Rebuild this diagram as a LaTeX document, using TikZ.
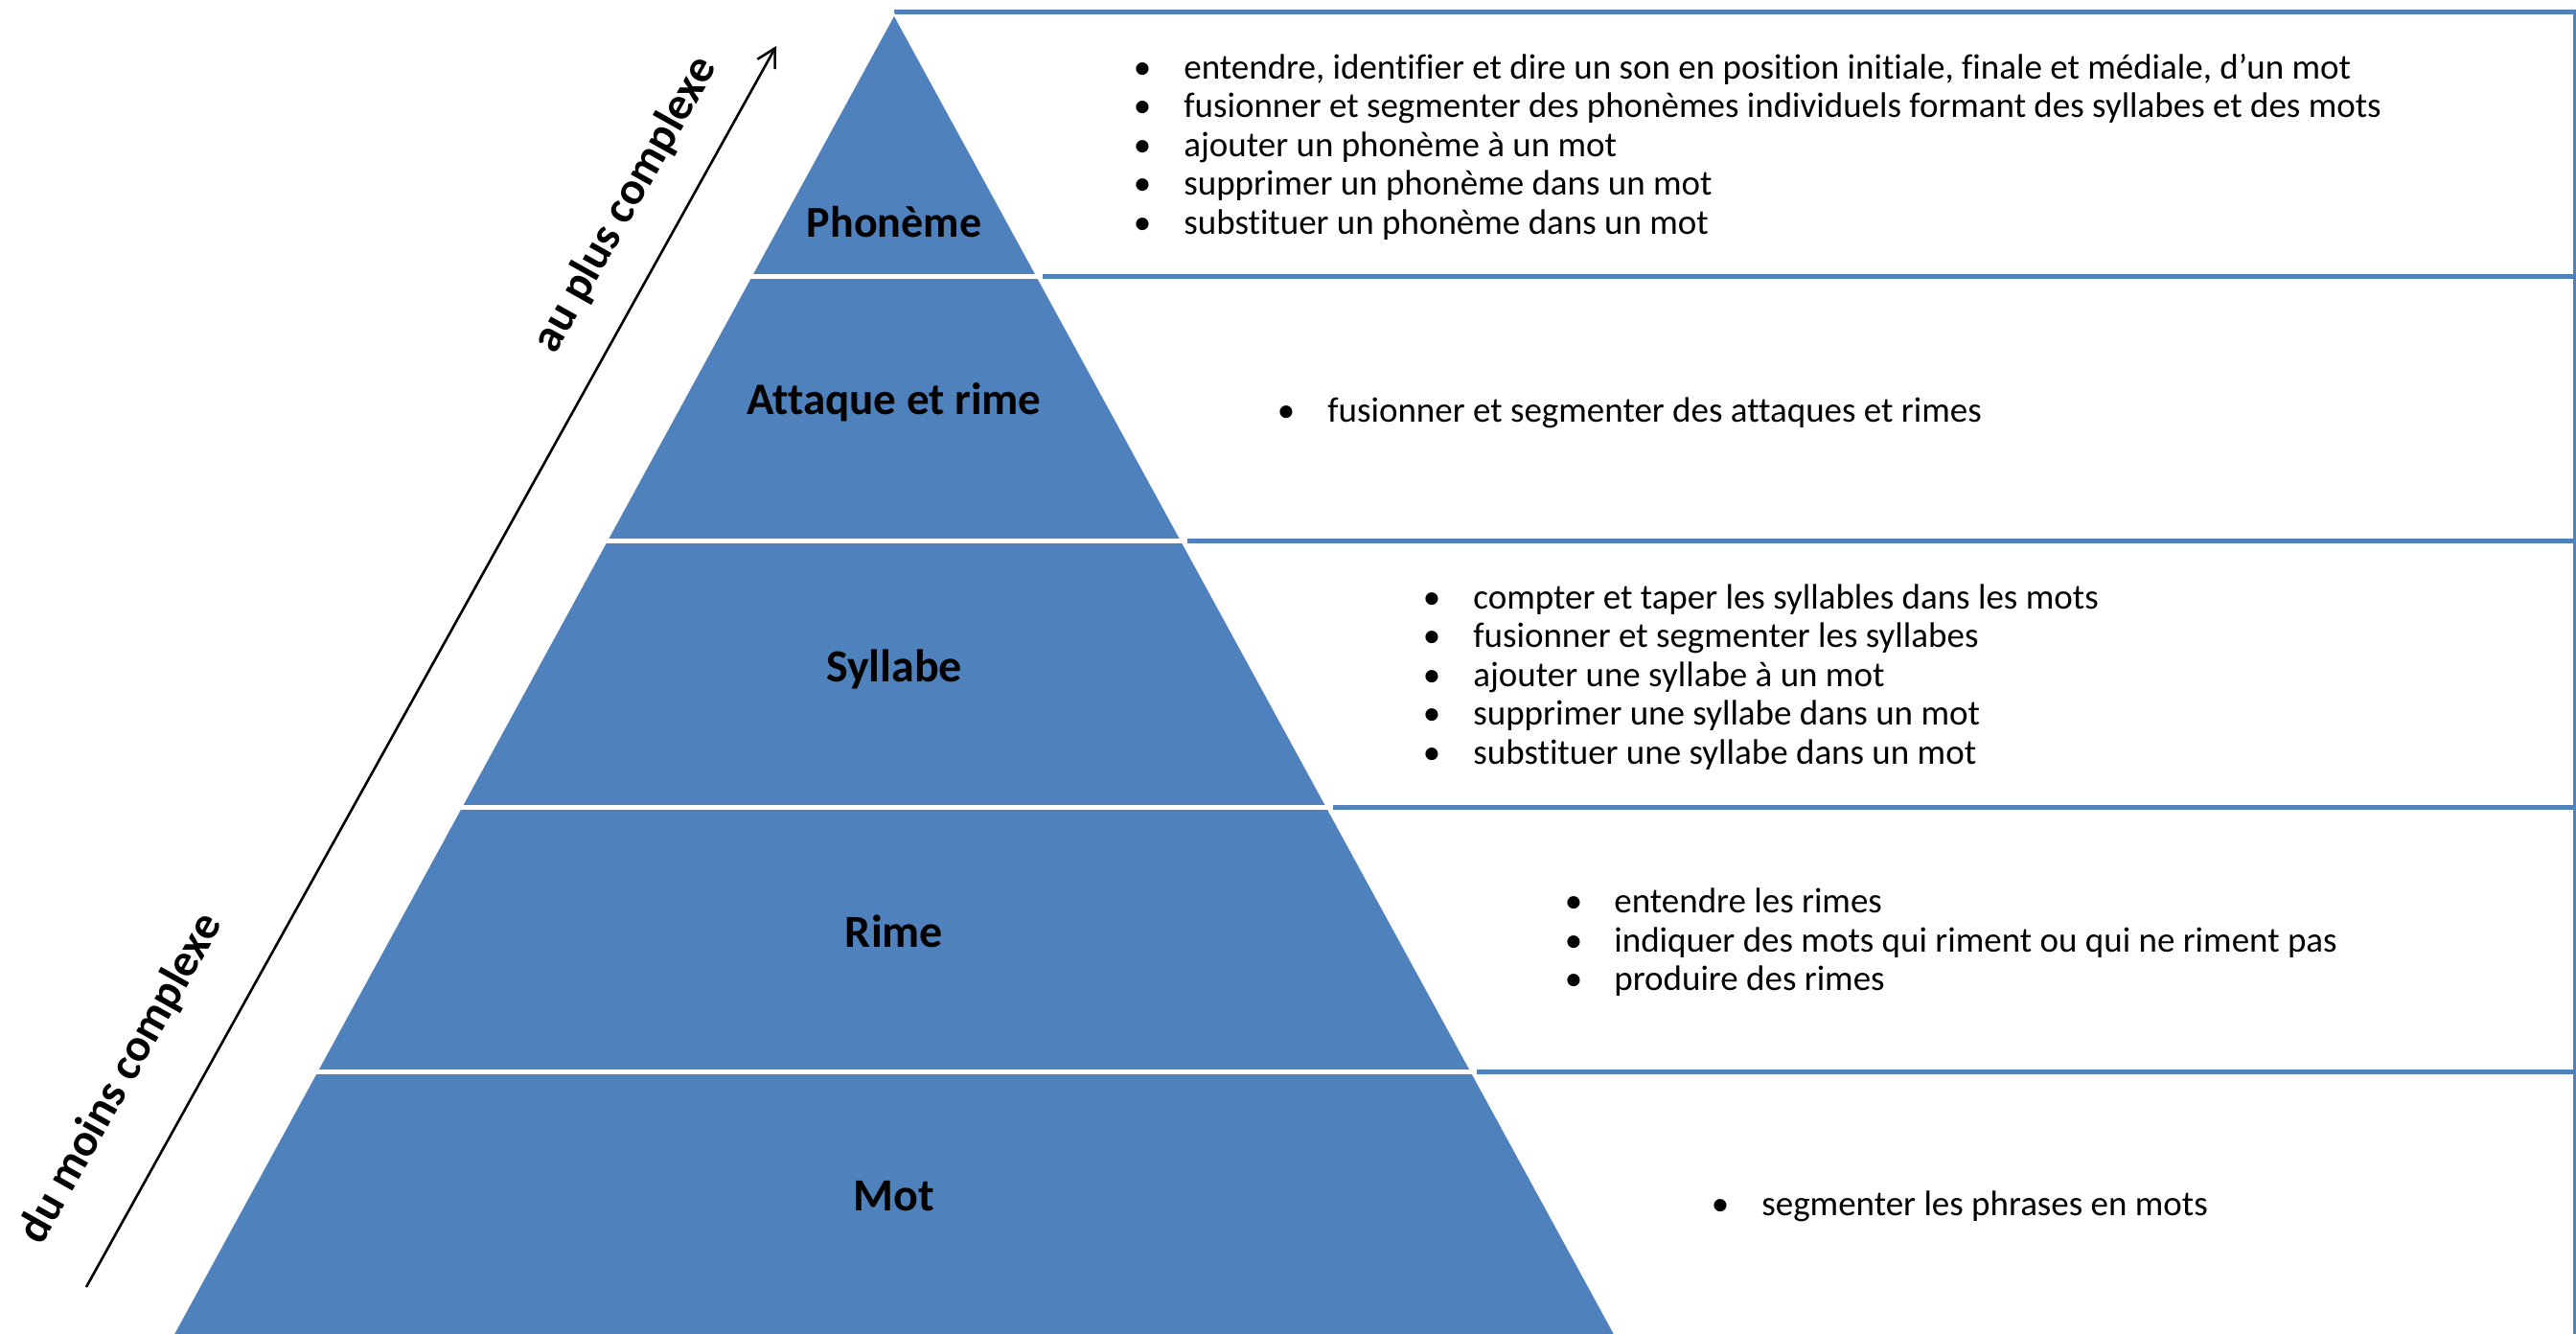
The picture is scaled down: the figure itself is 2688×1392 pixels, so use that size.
\documentclass[tikz,border=0pt]{standalone}
\usepackage{fontspec}
\setmainfont{Carlito}[Ligatures={NoCommon}]
\usetikzlibrary{arrows.meta}
\definecolor{pblue}{RGB}{79,129,189}
\begin{document}
\begin{tikzpicture}[x=0.5pt,y=-0.5pt,
  boxline/.style={draw=pblue,line width=2.5pt},
  rightline/.style={draw=pblue,line width=1.5pt},
  gap/.style={draw=white,line width=2.5pt},
  lbl/.style={anchor=base,font=\fontsize{24}{28}\selectfont\bfseries,text=black,inner sep=0pt},
  bul/.style={anchor=base,font=\fontsize{18.5}{20}\selectfont,inner sep=0pt},
  item/.style={anchor=base west,font=\fontsize{18.5}{20}\selectfont,inner sep=0pt},
  side/.style={anchor=base,rotate=60.7,font=\fontsize{24}{29}\selectfont\bfseries,inner sep=0pt},
  axis/.style={draw=black,line width=1.3pt,-{Straight Barb[length=9.5pt,width=10.5pt,line width=1.3pt]}}]
\useasboundingbox (0,0) rectangle (2688,1392);
\fill[white] (0,0) rectangle (2688,1392);
% edge points of the pyramid
\coordinate (apex) at (933,15);
\coordinate (l1) at (783.9,288);  \coordinate (r1) at (1082.1,288);
\coordinate (l2) at (633.2,564);  \coordinate (r2) at (1232.8,564);
\coordinate (l3) at (481.5,842);  \coordinate (r3) at (1384.5,842);
\coordinate (l4) at (330.8,1118); \coordinate (r4) at (1535.2,1118);
\coordinate (l5) at (176.8,1400); \coordinate (r5) at (1689.2,1400);
% right-hand list boxes
\coordinate (e0) at (2688,12.5);
\coordinate (e1) at (2688,288);
\coordinate (e2) at (2688,564);
\coordinate (e3) at (2688,842);
\coordinate (e4) at (2688,1118);
\coordinate (t0) at (933,12.5);
\coordinate (rt) at (2686,12.5);
\coordinate (rb) at (2686,1400);
\draw[boxline] (t0) -- (e0);
\draw[boxline] (r1) -- (e1);
\draw[boxline] (r2) -- (e2);
\draw[boxline] (r3) -- (e3);
\draw[boxline] (r4) -- (e4);
\draw[rightline] (rt) -- (rb);
% pyramid
\fill[pblue,draw=white,line width=0.8pt] (apex) -- (r5) -- (l5) -- cycle;
\draw[gap] ([xshift=-3]l1) -- ([xshift=3]r1);
\draw[gap] ([xshift=-3]l2) -- ([xshift=3]r2);
\draw[gap] ([xshift=-3]l3) -- ([xshift=3]r3);
\draw[gap] ([xshift=-3]l4) -- ([xshift=3]r4);
% labels
\node[lbl,font=\fontsize{23}{27}\selectfont\bfseries] (phon) at (933,247) {Phonème};
\node[lbl,font=\fontsize{23.5}{28}\selectfont\bfseries] (attq) at (933,432) {Attaque et rime};
\node[lbl] (syll) at (933,711) {Syllabe};
\node[lbl] (rime) at (933,988) {Rime};
\node[lbl] (mot) at (933,1263) {Mot};
% box 1
\foreach \t [count=\i] in {{entendre, identifier et dire un son en position initiale, finale et médiale, d’un mot},
  {fusionner et segmenter des phonèmes individuels formant des syllabes et des mots},
  {ajouter un phonème à un mot},
  {supprimer un phonème dans un mot},
  {substituer un phonème dans un mot}}{
  \node[bul] (ba\i) at (1192,{82+40.5*(\i-1)}) {\textbullet};
  \node[item] (ta\i) at (1235,{82+40.5*(\i-1)}) {\t};
}
% box 2
\node[bul] (bb1) at (1342,440) {\textbullet};
\node[item] (tb1) at (1385,440) {fusionner et segmenter des attaques et rimes};
% box 3
\foreach \t [count=\i] in {{compter et taper les syllables dans les mots},
  {fusionner et segmenter les syllabes},
  {ajouter une syllabe à un mot},
  {supprimer une syllabe dans un mot},
  {substituer une syllabe dans un mot}}{
  \node[bul] (bc\i) at (1494,{635+40.5*(\i-1)}) {\textbullet};
  \node[item] (tc\i) at (1537,{635+40.5*(\i-1)}) {\t};
}
% box 4
\foreach \t [count=\i] in {{entendre les rimes},
  {indiquer des mots qui riment ou qui ne riment pas},
  {produire des rimes}}{
  \node[bul] (bd\i) at (1642,{952.5+40.5*(\i-1)}) {\textbullet};
  \node[item] (td\i) at (1684,{952.5+40.5*(\i-1)}) {\t};
}
% box 5
\node[bul] (be1) at (1795,1268) {\textbullet};
\node[item] (te1) at (1838,1268) {segmenter les phrases en mots};
% complexity axis
\coordinate (axs) at (90,1343);
\coordinate (axe) at (810,48);
\draw[axis] (axs) -- (axe);
\node[side] (plus) at (664,220) {au plus complexe};
\node[side] (moins) at (138,1132) {du moins complexe};
\end{tikzpicture}
\end{document}
